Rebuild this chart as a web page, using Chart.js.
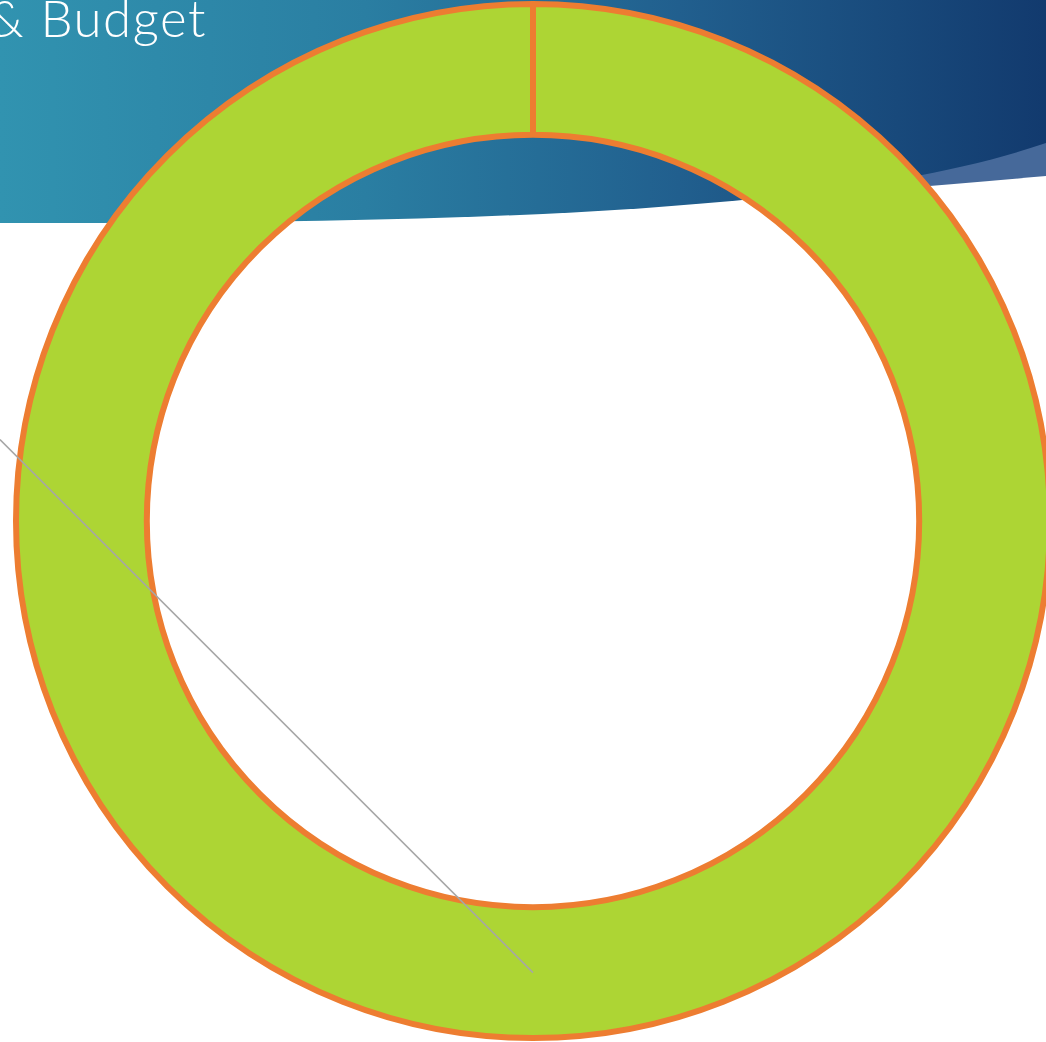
<!DOCTYPE html>
<html>
<head>
<meta charset="utf-8">
<script src="https://cdn.jsdelivr.net/npm/chart.js@4"></script>
<style>
  html, body { margin: 0; padding: 0; width: 1046px; height: 1042px; overflow: hidden; background: #ffffff; }
  #bg { position: absolute; left: 0; top: 0; }
  #title { position: absolute; left: -12px; top: -8px; color: #ffffff; font-family: Lato, "Open Sans", sans-serif; font-weight: 300; font-size: 51px; line-height: 51px; white-space: nowrap; letter-spacing: 1.5px; }
  #wrap { position: absolute; left: 0; top: 0; width: 1066px; height: 1042px; }
</style>
</head>
<body>
<svg id="bg" width="1046" height="1042" viewBox="0 0 1046 1042">
  <defs>
    <linearGradient id="g1" x1="0" y1="0" x2="1" y2="0">
      <stop offset="0" stop-color="#3193b0"/>
      <stop offset="0.35" stop-color="#2a7ea2"/>
      <stop offset="0.65" stop-color="#215f8e"/>
      <stop offset="1" stop-color="#123a6e"/>
    </linearGradient>
  </defs>
  <path d="M600,190 L737,200 Q880,191 1046,176 L1046,0 L600,0 Z" fill="#46699a"/>
  <path d="M0,0 L1046,0 L1046,143 C850,210 500,224 0,223 Z" fill="url(#g1)"/>
</svg>
<div id="title">&amp; Budget</div>
<div id="wrap"><canvas id="c"></canvas></div>
<script>
const labels = ['Budget'];
const values = [100];
const sliceColors = ['#add534'];
const borderColors = ['#ed7d31'];

const leaderLine = {
  id: 'leaderLine',
  afterDatasetsDraw(chart) {
    const arc = chart.getDatasetMeta(0).data[0];
    if (!arc) return;
    const p = arc.getProps(['x', 'y', 'startAngle', 'endAngle', 'innerRadius', 'outerRadius'], true);
    const mid = (p.startAngle + p.endAngle) / 2;
    const r = (p.innerRadius + p.outerRadius) / 2;
    const px = p.x + r * Math.cos(mid);
    const py = p.y + r * Math.sin(mid);
    const ctx = chart.ctx;
    ctx.save();
    ctx.strokeStyle = '#a6a6a6';
    ctx.lineWidth = 1.5;
    ctx.beginPath();
    ctx.moveTo(px, py);
    ctx.lineTo(0, py - px);
    ctx.stroke();
    ctx.restore();
  }
};

new Chart(document.getElementById('c'), {
  type: 'doughnut',
  data: {
    labels: labels,
    datasets: [{
      data: values,
      backgroundColor: sliceColors,
      borderColor: borderColors,
      borderWidth: 6,
      hoverOffset: 0
    }]
  },
  options: {
    responsive: true,
    maintainAspectRatio: false,
    animation: false,
    radius: 517,
    cutout: '74.7%',
    layout: { padding: 0 },
    plugins: {
      legend: { display: false },
      tooltip: { enabled: false },
      title: { display: false }
    }
  },
  plugins: [leaderLine]
});
</script>
</body>
</html>
